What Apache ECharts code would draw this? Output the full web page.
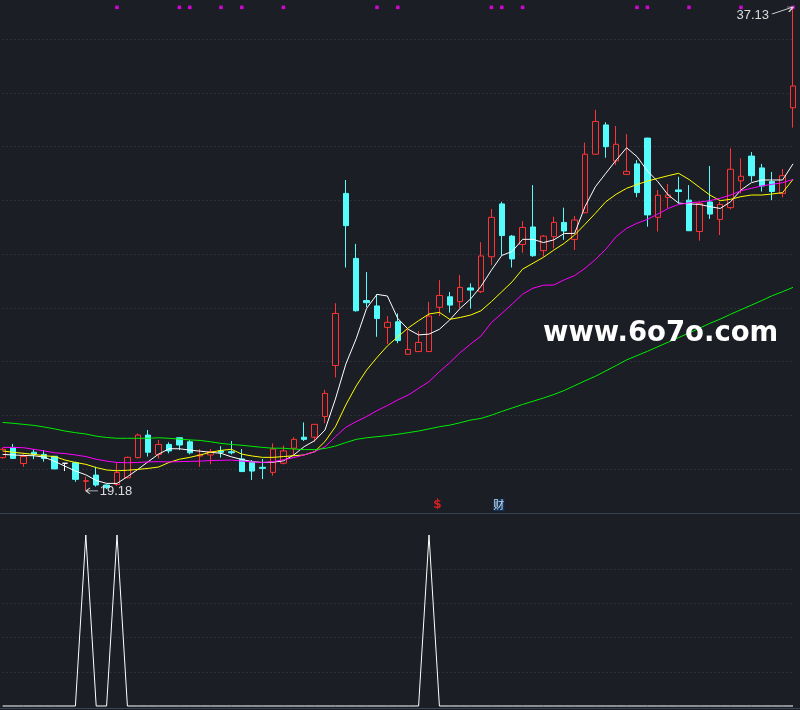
<!DOCTYPE html>
<html>
<head>
<meta charset="utf-8">
<script src="https://cdn.jsdelivr.net/npm/echarts@6/dist/echarts.min.js"></script>
<style>
html,body{margin:0;padding:0;background:#1b1e25;}
#chart{width:800px;height:710px;}
</style>
</head>
<body>
<div id="chart"></div>
<script>
// ---------- data ----------
const categories = Array.from({length: 77}, (_, i) => 'D' + (i + 1));

const opens = [20.42,20.80,20.20,20.62,20.54,20.47,20.21,20.23,19.54,19.77,
 19.40,19.42,19.67,20.42,21.26,20.54,20.91,21.16,21.01,20.48,
 20.52,20.67,20.64,20.37,20.25,20.06,19.87,20.21,20.77,21.18,
 21.18,21.95,23.85,30.26,27.84,26.27,26.07,25.27,25.48,24.27,
 24.37,24.37,26.02,26.41,26.23,26.74,26.60,27.90,29.87,28.67,
 28.36,29.01,28.13,28.65,29.18,28.55,29.54,31.72,32.81,31.47,
 30.97,31.36,32.32,29.37,30.11,30.39,30.01,28.84,29.94,29.29,
 29.73,30.73,31.65,31.21,30.70,30.26,33.45];
const closes = [20.73,20.39,20.46,20.55,20.39,20.00,20.21,19.61,19.56,19.40,
 19.30,19.87,20.43,21.26,20.62,20.91,20.67,20.89,20.60,20.52,
 20.64,20.62,20.60,19.90,19.92,20.02,20.74,20.67,21.10,21.10,
 21.66,22.81,25.79,29.06,25.89,26.19,25.60,25.46,24.78,24.45,
 24.71,25.69,26.46,26.10,26.76,26.66,27.93,29.37,28.69,27.82,
 28.99,27.94,28.67,29.18,28.86,29.27,31.72,32.94,32.00,32.09,
 31.08,30.29,29.46,30.19,30.20,30.33,28.87,29.89,29.49,29.85,
 31.16,30.90,30.92,30.54,30.33,30.92,34.26];
const lows = [20.38,20.37,20.08,20.36,20.27,19.99,19.92,19.52,19.18,19.34,
 19.25,19.37,19.65,20.39,20.46,20.39,20.58,20.70,20.54,20.08,
 20.17,20.42,20.54,19.89,19.59,19.62,19.75,20.17,20.52,21.04,
 21.01,21.70,23.41,27.50,25.86,26.02,24.92,24.65,24.68,24.26,
 24.36,24.36,25.69,25.82,25.98,25.97,26.55,27.59,27.94,27.50,
 28.05,27.90,27.90,28.21,28.53,28.15,29.52,31.71,31.59,31.32,
 30.96,30.12,29.02,28.84,29.70,29.89,28.86,28.50,29.31,28.71,
 29.67,30.26,30.70,30.33,30.01,30.11,32.71];
const highs = [20.78,20.93,20.60,20.73,20.70,20.48,20.21,20.27,19.71,20.08,
 19.42,20.21,20.46,21.32,21.45,21.08,20.99,21.17,21.08,20.74,
 20.74,20.85,21.04,20.74,20.33,20.37,20.95,20.87,21.18,21.73,
 21.67,22.94,26.17,30.76,28.38,27.33,26.51,25.69,25.79,25.23,
 25.14,26.22,27.03,26.59,27.22,26.91,28.44,29.68,29.95,28.71,
 29.23,30.57,28.71,29.39,29.73,29.42,32.15,33.37,32.91,32.77,
 32.47,31.50,32.33,30.39,30.61,30.88,30.57,29.95,31.28,29.95,
 31.94,31.57,31.80,31.36,31.06,31.17,37.13];

const ma5 = [20.54,20.52,20.50,20.49,20.44,20.28,20.10,19.92,19.78,19.57,
 19.46,19.46,19.71,19.98,20.27,20.55,20.75,20.75,20.70,20.66,
 20.62,20.58,20.45,20.35,20.27,20.24,20.25,20.30,20.52,20.83,
 21.05,21.45,22.60,23.90,24.85,25.98,26.50,26.44,25.60,25.20,
 24.99,25.02,25.20,25.55,25.98,26.33,26.80,27.40,27.95,28.10,
 28.55,28.55,28.43,28.53,28.77,28.77,29.77,30.51,31.01,31.50,
 31.96,31.63,31.10,30.70,30.20,29.90,29.87,29.85,29.77,29.70,
 29.95,30.39,30.66,30.76,30.76,30.76,31.36];
const ma10 = [20.67,20.62,20.58,20.54,20.49,20.46,20.33,20.24,20.17,20.05,
 19.96,19.93,19.95,19.98,20.02,20.07,20.24,20.36,20.43,20.52,
 20.62,20.69,20.73,20.55,20.48,20.43,20.43,20.46,20.49,20.52,
 20.64,21.02,21.57,22.38,23.09,23.68,24.15,24.58,24.92,25.25,
 25.52,25.77,25.83,25.57,25.64,25.73,25.89,26.23,26.60,26.97,
 27.44,27.66,27.88,28.15,28.40,28.71,29.11,29.52,29.95,30.23,
 30.45,30.59,30.72,30.82,30.92,31.01,30.78,30.49,30.20,29.99,
 30.04,30.14,30.20,30.20,30.24,30.29,30.78];
const ma20 = [20.80,20.80,20.79,20.73,20.67,20.60,20.57,20.52,20.46,20.36,
 20.29,20.24,20.23,20.24,20.26,20.27,20.26,20.27,20.28,20.29,
 20.31,20.32,20.33,20.29,20.26,20.24,20.27,20.34,20.42,20.52,
 20.64,20.82,21.20,21.55,21.76,21.95,22.17,22.36,22.57,22.75,
 23.00,23.25,23.62,23.96,24.33,24.65,24.95,25.45,25.79,26.14,
 26.51,26.73,26.84,26.85,27.04,27.20,27.47,27.80,28.18,28.65,
 28.96,29.15,29.29,29.49,29.70,29.85,29.91,29.94,29.99,30.08,
 30.20,30.36,30.45,30.54,30.60,30.66,30.78];
const ma60 = [21.73,21.70,21.66,21.62,21.56,21.49,21.41,21.35,21.30,21.22,
 21.17,21.14,21.14,21.14,21.14,21.16,21.14,21.11,21.08,21.06,
 21.01,20.95,20.91,20.88,20.84,20.80,20.77,20.77,20.74,20.72,
 20.72,20.76,20.85,20.98,21.10,21.16,21.20,21.24,21.29,21.35,
 21.41,21.49,21.57,21.63,21.72,21.82,21.88,22.00,22.14,22.27,
 22.40,22.52,22.64,22.77,22.92,23.10,23.28,23.45,23.65,23.85,
 24.06,24.22,24.38,24.55,24.72,24.89,25.06,25.24,25.42,25.58,
 25.76,25.93,26.10,26.27,26.45,26.60,26.76];

// lower panel signal (0 / 100)
const signal = [0,0,0,0,0,0,0,0,100,0,
 0,100,0,0,0,0,0,0,0,0,
 0,0,0,0,0,0,0,0,0,0,
 0,0,0,0,0,0,0,0,0,0,
 0,100,0,0,0,0,0,0,0,0,
 0,0,0,0,0,0,0,0,0,0,
 0,0,0,0,0,0,0,0,0,0,
 0,0,0,0,0,0,0];

// day numbers (1-based) carrying the small magenta marks at the top
const topMarkDays = [12,18,19,22,24,28,37,39,48,49,51,62,63,67,72,77];
const moneyDays = [43];   // red "$" marker
const caiDays = [49];     // "财" marker
const flatDay = 7;        // candle with open == close

// ---------- chart ----------
const BG = '#1b1e25';
const UP = '#ff3434';
const DOWN = '#54fcfc';
const GRIDC = '#3c4048';
const TOP_LEVEL = 37.19;
const MARK_LEVEL = 18.66;

const candleData = categories.map((_, i) => {
  const v = [opens[i], closes[i], lows[i], highs[i]];
  if (i === flatDay - 1) {
    return {value: v, itemStyle: {color: '#ffffff', color0: '#ffffff', borderColor: '#ffffff', borderColor0: '#ffffff', borderColorDoji: '#ffffff'}};
  }
  return v;
});

const labelStyle = {color: '#dcdcdc', fontSize: 13, fontFamily: 'Liberation Sans'};
const arrowStyle = {color: 'transparent', borderColor: '#dcdcdc', borderWidth: 1};

const xCommon = {type: 'category', data: categories, boundaryGap: false,
  axisTick: {show: false}, axisLabel: {show: false}, splitLine: {show: false}};

const chart = echarts.init(document.getElementById('chart'), null, {renderer: 'canvas'});
chart.setOption({
  backgroundColor: BG,
  animation: false,
  grid: [
    {left: 2.6, width: 790.4, top: 0, height: 522.6},
    {left: 2.6, width: 790.4, top: 535, height: 171}
  ],
  xAxis: [
    Object.assign({gridIndex: 0, axisLine: {show: false}}, xCommon),
    Object.assign({gridIndex: 1, axisLine: {show: false}}, xCommon)
  ],
  yAxis: [
    {type: 'value', gridIndex: 0, min: 18, max: 37.4637, interval: 2,
     axisLine: {show: false}, axisTick: {show: false}, axisLabel: {show: false},
     splitLine: {show: true, showMinLine: false, showMaxLine: false, lineStyle: {color: GRIDC, type: [1, 3], width: 1}}},
    {type: 'value', gridIndex: 1, min: 0, max: 100, interval: 20,
     axisLine: {show: false}, axisTick: {show: false}, axisLabel: {show: false},
     splitLine: {show: true, showMinLine: false, showMaxLine: false, lineStyle: {color: GRIDC, type: [1, 3], width: 1}}}
  ],
  series: [
    {
      type: 'candlestick', xAxisIndex: 0, yAxisIndex: 0, z: 2, clip: false,
      data: candleData, barWidth: 6,
      itemStyle: {color: BG, color0: DOWN, borderColor: UP, borderColor0: DOWN, borderWidth: 1},
      markPoint: {
        silent: true, animation: false, symbol: 'circle', symbolSize: 0,
        data: [
          {type: 'max', valueDim: 'highest',
           label: Object.assign({show: true, formatter: p => Number(p.value).toFixed(2), position: 'left', distance: 24, offset: [0, 6.5]}, labelStyle)},
          {type: 'max', valueDim: 'highest', symbol: 'path://M0,7L21,0M15,0L21,0L17,5', symbolSize: [21, 7], symbolOffset: [-10.5, 1.5],
           itemStyle: arrowStyle, label: {show: false}},
          {type: 'min', valueDim: 'lowest',
           label: Object.assign({show: true, formatter: p => Number(p.value).toFixed(2), position: 'right', distance: 14, offset: [0, 0.5]}, labelStyle)},
          {type: 'min', valueDim: 'lowest', symbol: 'path://M12,3L0,3M4,0L0,3L4,6', symbolSize: [12, 6], symbolOffset: [6.2, 0],
           itemStyle: arrowStyle, label: {show: false}}
        ]
      }
    },
    {name: 'MA5', type: 'line', data: ma5, symbol: 'none', z: 3, clip: false, lineStyle: {color: '#ffffff', width: 1}},
    {name: 'MA10', type: 'line', data: ma10, symbol: 'none', z: 3, clip: false, lineStyle: {color: '#ffff00', width: 1}},
    {name: 'MA20', type: 'line', data: ma20, symbol: 'none', z: 3, clip: false, lineStyle: {color: '#ff00ff', width: 1}},
    {name: 'MA60', type: 'line', data: ma60, symbol: 'none', z: 3, clip: false, lineStyle: {color: '#00ee00', width: 1}},
    {type: 'scatter', z: 4, clip: false, symbol: 'rect', symbolSize: 3.5, itemStyle: {color: '#ff00ff'},
     data: topMarkDays.map(d => [d - 1, TOP_LEVEL])},
    {type: 'scatter', z: 4, clip: false, symbolSize: 1, itemStyle: {color: 'transparent'},
     label: {show: true, position: 'inside', formatter: '$', color: '#ff2020', fontSize: 12, fontWeight: 'bold', fontFamily: 'DejaVu Sans', offset: [-2, 0]},
     data: moneyDays.map(d => [d - 1, MARK_LEVEL])},
    {type: 'scatter', z: 4, clip: false, symbolSize: 1, itemStyle: {color: 'transparent'},
     label: {show: true, position: 'inside', formatter: '财', color: '#ffffff', fontSize: 11, fontFamily: 'Noto Sans CJK SC',
             backgroundColor: '#0e3c72', padding: [1, 0, 0, 0], offset: [-3, 0]},
     data: caiDays.map(d => [d - 1, MARK_LEVEL])},
    {type: 'line', xAxisIndex: 1, yAxisIndex: 1, data: signal, symbol: 'none', z: 3, clip: false,
     lineStyle: {color: '#ffffff', width: 1}}
  ],
  graphic: [
    {type: 'line', silent: true, z: 1, shape: {x1: 0, y1: 513.5, x2: 800, y2: 513.5}, style: {stroke: '#3a4350', lineWidth: 1}},
    {type: 'line', silent: true, z: 1, shape: {x1: 0, y1: 708.5, x2: 800, y2: 708.5}, style: {stroke: '#3a4350', lineWidth: 1}},
    {type: 'text', silent: true, z: 10, style: {text: 'www.6o7o.com', x: 543, y: 334, fill: '#ffffff',
      font: 'bold 27.5px "DejaVu Sans"', textAlign: 'left', textVerticalAlign: 'middle'}}
  ]
});
</script>
</body>
</html>
